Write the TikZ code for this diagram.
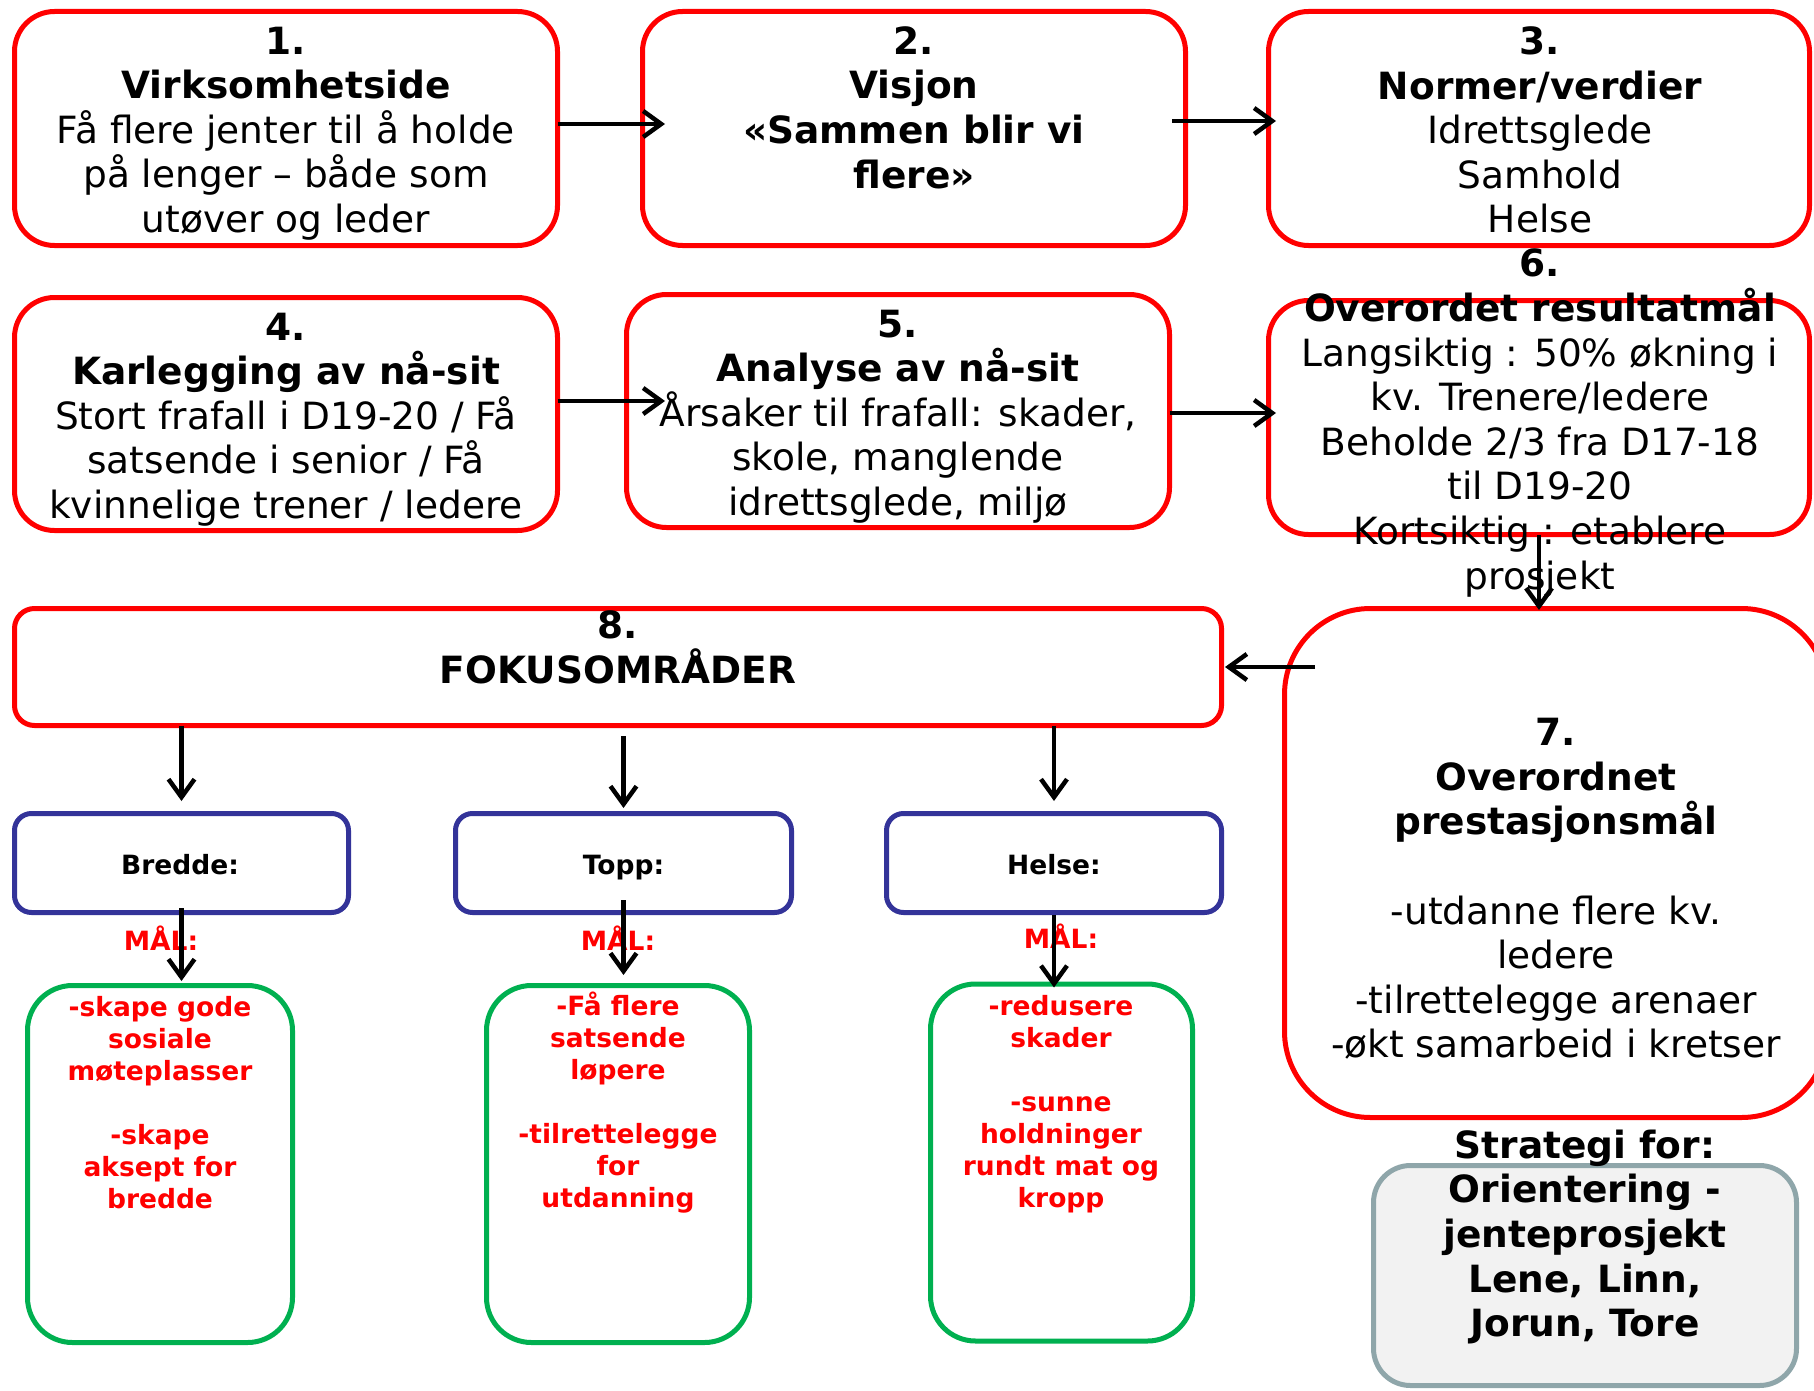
\documentclass[tikz,border=0pt]{standalone}
\usepackage{fontspec}
\setmainfont{DejaVu Sans}
\usetikzlibrary{arrows.meta}
\definecolor{boxred}{RGB}{255,0,0}
\definecolor{boxblue}{RGB}{51,51,153}
\definecolor{boxgreen}{RGB}{0,176,80}
\definecolor{stratfill}{RGB}{242,242,242}
\definecolor{stratline}{RGB}{143,166,170}
\begin{document}
\begin{tikzpicture}[x=1pt,y=-1pt,
  frame/.style={draw, line width=5pt, inner sep=0pt, outer sep=0pt},
  redbox/.style={frame, draw=boxred, minimum width=543pt, minimum height=234pt, rounded corners=40pt},
  bluebox/.style={frame, draw=boxblue, minimum width=334pt, minimum height=99pt, rounded corners=17pt},
  greenbox/.style={frame, draw=boxgreen, minimum width=265pt, minimum height=357pt, rounded corners=45pt},
  big/.style={font=\fontsize{37.5}{44.6}\selectfont, align=center, inner sep=0pt},
  small/.style={font=\fontsize{26.5}{32}\selectfont\bfseries, align=center, inner sep=0pt},
  goal/.style={small, text=boxred},
  flow/.style={draw, line width=4.5pt, -{Straight Barb[length=18pt,width=26pt]}}]
\useasboundingbox (0,0) rectangle (1814,1391);

% frames
\node[redbox] (b1) at (286,128.5) {};
\node[redbox] (b2) at (914,128.5) {};
\node[redbox, minimum width=541pt] (b3) at (1539,128.5) {};
\node[redbox, minimum height=233pt] (b4) at (286,414) {};
\node[redbox, minimum height=233pt] (b5) at (898,411) {};
\node[redbox, minimum width=541pt] (b6) at (1539,417.5) {};
\node[frame, draw=boxred, minimum width=1207pt, minimum height=117pt, rounded corners=20pt] (b8) at (618,667) {};
\node[frame, draw=boxred, minimum width=543pt, minimum height=509pt, rounded corners=86pt] (b7) at (1556,863) {};
\node[bluebox] (f1) at (181.5,863) {};
\node[bluebox, minimum width=336pt] (f2) at (623.5,863) {};
\node[bluebox, minimum width=335pt] (f3) at (1054,863) {};
\node[greenbox] (g1) at (160,1164) {};
\node[greenbox, minimum width=263pt] (g2) at (618,1164) {};
\node[greenbox, minimum width=262pt] (g3) at (1061.5,1162.5) {};
\node[frame, draw=stratline, fill=stratfill, minimum width=423pt, minimum height=220pt, rounded corners=37pt] (s) at (1585,1275.5) {};

% texts
\node[big] (t1) at (286,133.5) {\textbf{1.}\\\textbf{Virksomhetside}\\Få flere jenter til å holde\\på lenger – både som\\utøver og leder};
\node[big] (t2) at (914,107.6) {\textbf{2.}\\\textbf{Visjon}\\\textbf{«Sammen blir vi}\\\textbf{flere»}};
\node[big] (t3) at (1540,130) {\textbf{3.}\\\textbf{Normer/verdier}\\Idrettsglede\\Samhold\\Helse};
\node[big] (t4) at (286,419.5) {\textbf{4.}\\\textbf{Karlegging av nå-sit}\\Stort frafall i D19-20 / Få\\satsende i senior / Få\\kvinnelige trener / ledere};
\node[big] (t5) at (898,416.5) {\textbf{5.}\\\textbf{Analyse av nå-sit}\\Årsaker til frafall: skader,\\skole, manglende\\idrettsglede, miljø};
\node[big] (t6) at (1540,423) {\textbf{6.}\\\textbf{Overordet resultatmål}\\Langsiktig : 50\% økning i\\kv. Trenere/ledere\\Beholde 2/3 fra D17-18\\til D19-20\\Kortsiktig : etablere\\prosjekt};
\node[big] (t8) at (618,647.5) {\textbf{8.}\\\textbf{FOKUSOMRÅDER}};
\node[big] (t7) at (1556,889) {\textbf{7.}\\\textbf{Overordnet}\\\textbf{prestasjonsmål}\\[44.6pt]-utdanne flere kv.\\ledere\\-tilrettelegge arenaer\\-økt samarbeid i kretser};
\node[big, font=\fontsize{37.5}{44.6}\selectfont\bfseries] (ts) at (1585,1237) {Strategi for:\\Orientering -\\jenteprosjekt\\Lene, Linn,\\Jorun, Tore};

\node[small] (l1) at (180,865) {Bredde:};
\node[small] (l2) at (623.5,867.5) {Topp:};
\node[small] (l3) at (1054,865) {Helse:};
\node[goal] (m1) at (161,938) {MÅL:};
\node[goal] (m2) at (618,938) {MÅL:};
\node[goal] (m3) at (1061,936.5) {MÅL:};
\node[goal] (k1) at (160,1102.5) {-skape gode\\sosiale\\møteplasser\\[32pt]-skape\\aksept for\\bredde};
\node[goal] (k2) at (618,1102.5) {-Få flere\\satsende\\løpere\\[32pt]-tilrettelegge\\for\\utdanning};
\node[goal] (k3) at (1061,1104) {-redusere\\skader\\[32pt]-sunne\\holdninger\\rundt mat og\\kropp};

% connectors
\draw[flow, shorten >=-22.5pt] ([yshift=4.5pt]b1.east) -- ([yshift=4.5pt]b2.west);
\draw[flow, shorten <=-13.5pt, shorten >=-7.5pt] ([yshift=7.5pt]b2.east) -- ([yshift=7.5pt]b3.west);
\draw[flow, shorten >=-38.5pt] ([yshift=13pt]b4.east) -- ([yshift=10pt]b5.west);
\draw[flow, shorten >=-7.5pt] ([yshift=-2pt]b5.east) -- ([yshift=4.5pt]b6.west);
\draw[flow, shorten >=-1.5pt] (b6.south) -- (b6.south |- b7.north);
\draw[flow, shorten <=-30.5pt, shorten >=3.5pt] (b7.west |- b8.east) -- (b8.east);
\draw[flow, shorten >=12.5pt] (f1.north |- b8.south) -- (f1.north);
\draw[flow, shorten <=10.5pt, shorten >=5.5pt] (f2.north |- b8.south) -- (f2.north);
\draw[flow, shorten >=12.5pt] (f3.north |- b8.south) -- (f3.north);
\draw[flow, shorten <=-4.5pt, shorten >=4.5pt] (f1.south) -- (f1.south |- g1.north);
\draw[flow, shorten <=-12.5pt, shorten >=10.5pt] (f2.south) -- (f2.south |- g2.north);
\draw[flow, shorten <=2.5pt, shorten >=-3.5pt] (f3.south) -- (f3.south |- g3.north);
\end{tikzpicture}
\end{document}
